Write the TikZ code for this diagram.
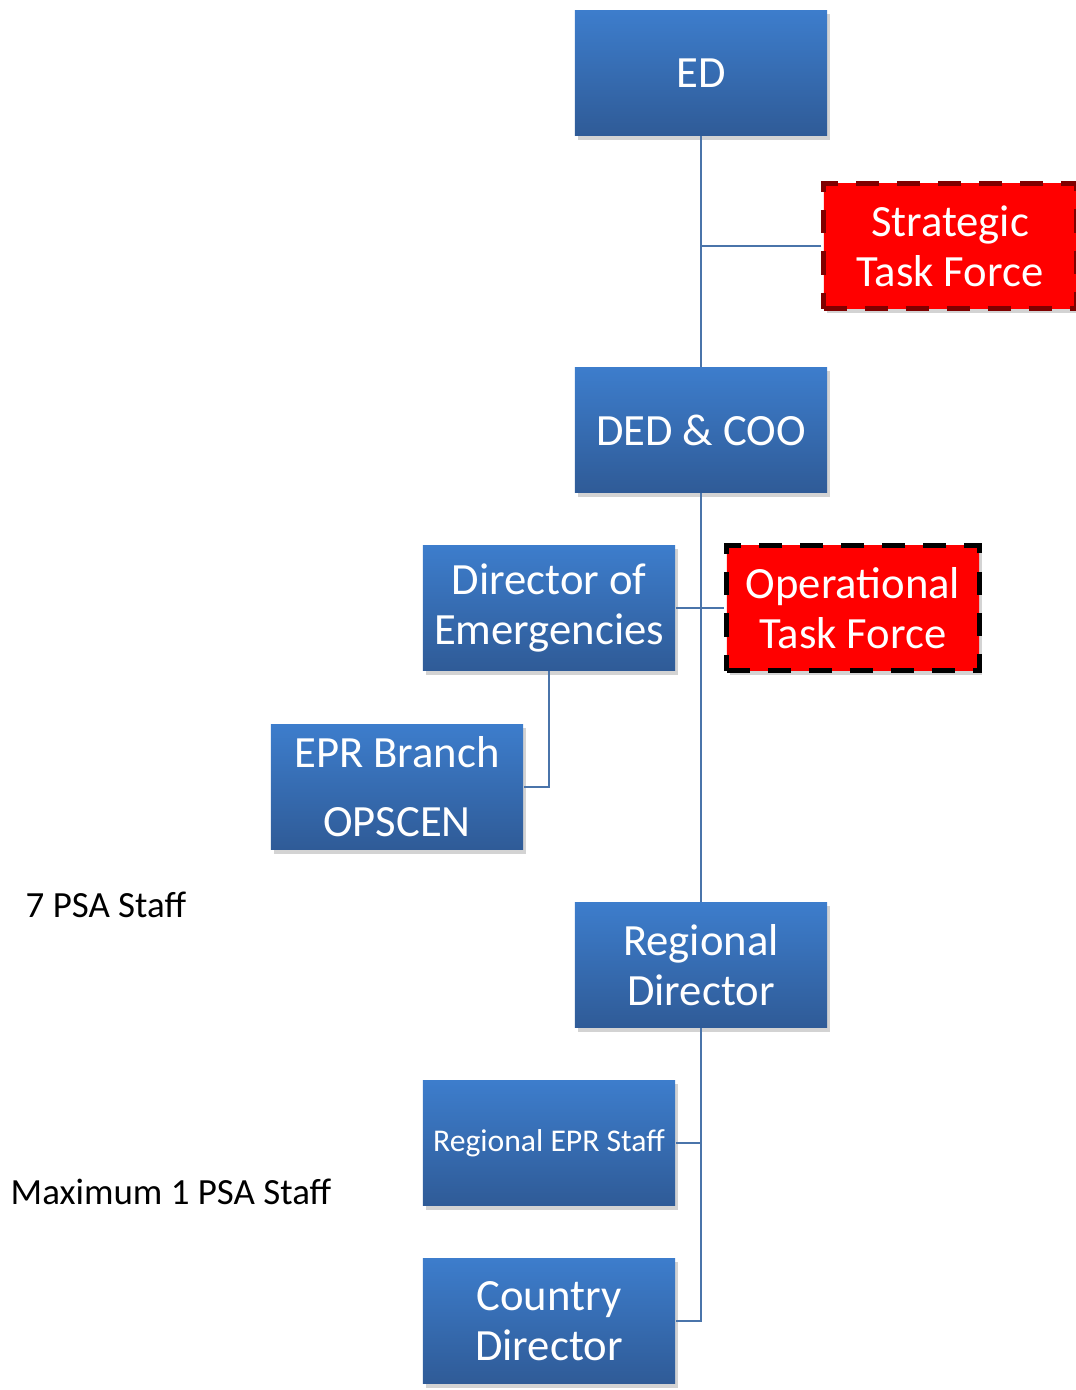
\documentclass[tikz,border=0pt]{standalone}
\usepackage{fontspec}
\setmainfont{Carlito}
\usetikzlibrary{shadows}
\definecolor{boxtop}{HTML}{3D7DCC}
\definecolor{boxbot}{HTML}{2F5B97}
\definecolor{linkblue}{HTML}{4A74AA}
\definecolor{darkred}{HTML}{7F0000}
\tikzset{
  box/.style={rectangle, minimum width=2.52cm, minimum height=1.25cm, inner sep=0pt,
    top color=boxtop, bottom color=boxbot, text=white, align=center,
    font=\fontsize{12.7}{14.2}\selectfont,
    drop shadow={opacity=0.35, shadow xshift=0.03cm, shadow yshift=-0.04cm}},
  taskbox/.style={box, top color=red, bottom color=red, line width=1.4pt,
    dash pattern=on 0.23cm off 0.18cm},
  link/.style={linkblue, line width=0.6pt},
  note/.style={anchor=west, inner sep=0pt, font=\fontsize{10.5}{12}\selectfont}
}
\begin{document}
\begin{tikzpicture}[x=0.01cm, y=-0.01cm]
     \useasboundingbox (0,0) rectangle (1076,1390);
     \node[box] (ed) at (701,73) {ED};
     \node[taskbox, draw=darkred] (stf) at (950,246) {Strategic\\Task Force};
     \node[box] (ded) at (701,430) {DED \& COO};
     \node[box] (doe) at (549,608) {Director of\\Emergencies};
     \node[taskbox, draw=black] (otf) at (853,608) {Operational\\Task Force};
     \node[box, font=\fontsize{12.7}{19.6}\selectfont] (epr) at (397,787) {EPR Branch\\OPSCEN};
     \node[box] (rd) at (701,965) {Regional\\Director};
     \node[box, font=\fontsize{9}{11}\selectfont] (res) at (549,1143) {Regional EPR Staff};
     \node[box] (cd) at (549,1321) {Country\\Director};
     % connectors
     \draw[link] (ed.south) -- (ded.north);
     \draw[link] (stf.west) -- (stf.west -| ed.south);
     \draw[link] (ded.south) -- (rd.north);
     \draw[link] (doe.east) -- (otf.west);
     \draw[link] (doe.south) |- (epr.east);
     \draw[link] (rd.south) |- (cd.east);
     \draw[link] (res.east) -- (res.east -| rd.south);
     \node[note] (psa7) at (25,905) {7 PSA Staff};
     \node[note] (psa1) at (10,1192) {Maximum 1 PSA Staff};
\end{tikzpicture}
\end{document}
